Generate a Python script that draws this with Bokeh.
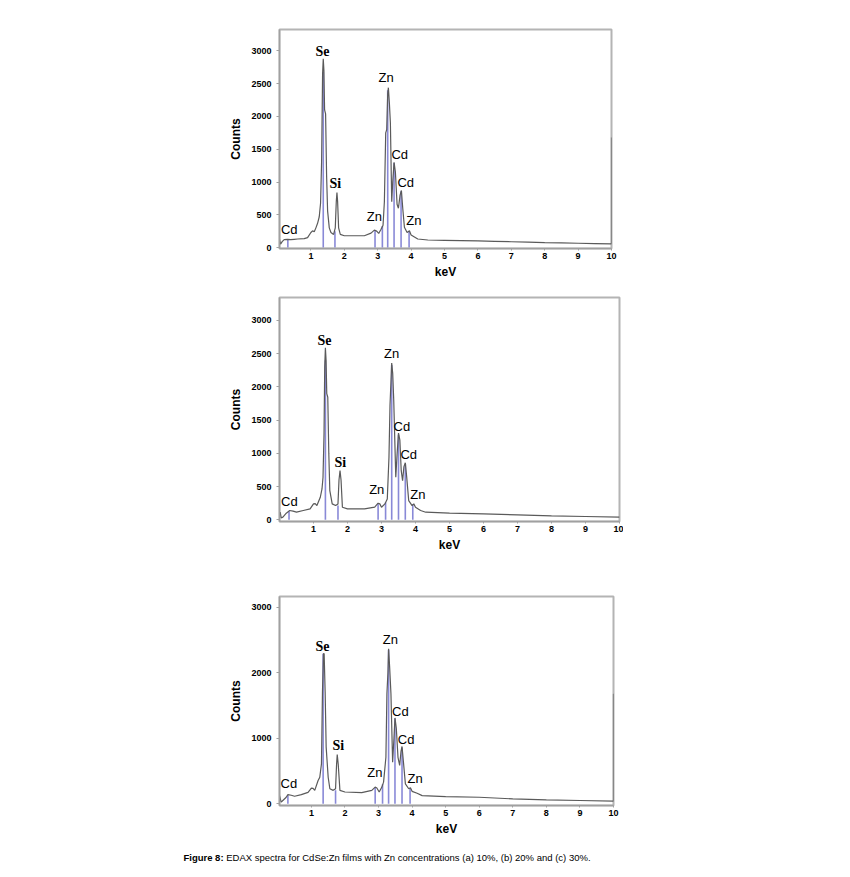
from bokeh.plotting import figure
from bokeh.layouts import column
from bokeh.models import Div, FixedTicker, Range1d, ColumnDataSource
from bokeh.core.properties import value
from bokeh.embed import file_html
from bokeh.resources import INLINE

# ---------------- data ----------------
X_TICKS = [1, 2, 3, 4, 5, 6, 7, 8, 9, 10]
Y_TICKS_AB = [0, 500, 1000, 1500, 2000, 2500, 3000]
Y_TICKS_C = [0, 1000, 2000, 3000]

# (a) 10 % Zn
energy_a = [0.06, 0.09, 0.14, 0.2, 0.3, 0.4, 0.5, 0.6, 0.8, 0.9, 1.0, 1.05, 1.1, 1.15, 1.2, 1.25,
            1.29, 1.32, 1.35, 1.37, 1.39, 1.41, 1.44, 1.47, 1.5, 1.55, 1.6, 1.68, 1.73, 1.76, 1.78,
            1.8, 1.83, 1.88, 2.0, 2.3, 2.6, 2.8, 2.9, 2.97, 3.03, 3.1, 3.16, 3.2, 3.24, 3.27, 3.3,
            3.32, 3.35, 3.38, 3.42, 3.45, 3.49, 3.53, 3.58, 3.62, 3.67, 3.71, 3.75, 3.8, 3.88, 3.95,
            4.0, 4.1, 4.2, 4.5, 5.0, 5.5, 6.0, 6.5, 7.0, 7.5, 8.0, 8.5, 9.0, 9.5, 10.0, 10.0]
counts_a = [125, 50, 90, 120, 125, 120, 125, 130, 135, 150, 230, 255, 240, 300, 370, 470,
            680, 1300, 2650, 2880, 2700, 2100, 2040, 1100, 560, 300, 230, 200, 300, 700, 840,
            700, 300, 200, 180, 180, 180, 220, 265, 250, 215, 280, 340, 700, 1750, 1800, 2350,
            2440, 2200, 1900, 700, 1000, 1300, 1150, 660, 600, 800, 870, 600, 310, 230, 255,
            190, 160, 130, 115, 110, 105, 100, 95, 88, 82, 75, 70, 65, 60, 55, 1680]
marker_e_a = [0.31, 1.37, 1.72, 2.92, 3.14, 3.30, 3.49, 3.70, 3.94]
marker_c_a = [125, 2680, 250, 255, 330, 2400, 1290, 860, 250]
label_x_a = [0.35, 1.35, 1.73, 2.90, 3.25, 3.66, 3.84, 4.08]
label_y_a = [280, 2985, 970, 475, 2600, 1420, 985, 408]
label_t_a = ["Cd", "Se", "Si", "Zn", "Zn", "Cd", "Cd", "Zn"]

# (b) 20 % Zn
energy_b = [0.02, 0.05, 0.1, 0.2, 0.3, 0.4, 0.5, 0.7, 0.9, 1.0, 1.05, 1.1, 1.2, 1.25, 1.28, 1.31,
            1.33, 1.35, 1.37, 1.39, 1.42, 1.45, 1.48, 1.55, 1.65, 1.72, 1.75, 1.78, 1.81, 1.85,
            2.0, 2.5, 2.8, 2.9, 2.95, 3.0, 3.1, 3.17, 3.22, 3.25, 3.28, 3.3, 3.33, 3.36, 3.42,
            3.46, 3.5, 3.54, 3.58, 3.62, 3.66, 3.7, 3.74, 3.8, 3.9, 3.95, 4.0, 4.15, 4.3, 5.0,
            6.0, 7.0, 8.0, 9.0, 10.0]
counts_b = [115, 30, 40, 100, 140, 130, 115, 140, 165, 240, 245, 215, 340, 465, 640, 1300,
            2300, 2590, 2400, 1900, 1845, 1000, 440, 240, 215, 240, 600, 740, 600, 190,
            165, 165, 190, 250, 240, 190, 240, 315, 945, 1720, 2100, 2360, 2200, 1800, 640,
            1000, 1305, 1200, 740, 590, 800, 860, 650, 290, 215, 240, 190, 140, 115, 100,
            90, 75, 60, 50, 40]
marker_e_b = [0.28, 1.35, 1.72, 2.90, 3.12, 3.30, 3.50, 3.70, 3.92]
marker_c_b = [130, 2400, 215, 250, 260, 2330, 1280, 840, 235]
label_x_b = [0.29, 1.32, 1.79, 2.86, 3.30, 3.60, 3.80, 4.07]
label_y_b = [280, 2700, 870, 450, 2510, 1405, 980, 380]
label_t_b = ["Cd", "Se", "Si", "Zn", "Zn", "Cd", "Cd", "Zn"]

# (c) 30 % Zn
energy_c = [0.05, 0.1, 0.15, 0.25, 0.3, 0.4, 0.5, 0.7, 0.9, 1.0, 1.05, 1.1, 1.2, 1.25, 1.3,
            1.33, 1.36, 1.38, 1.41, 1.44, 1.5, 1.55, 1.65, 1.72, 1.75, 1.77, 1.8, 1.85, 2.0,
            2.5, 2.8, 2.9, 2.95, 3.02, 3.1, 3.15, 3.22, 3.25, 3.28, 3.3, 3.33, 3.37, 3.42, 3.46,
            3.49, 3.53, 3.58, 3.63, 3.67, 3.7, 3.74, 3.8, 3.9, 3.95, 4.0, 4.15, 4.3, 5.0, 6.0,
            7.0, 8.0, 9.0, 10.0, 10.0]
counts_c = [125, 25, 50, 100, 140, 130, 115, 140, 175, 240, 235, 205, 355, 405, 610,
            1700, 2290, 2290, 1700, 865, 405, 230, 205, 230, 600, 750, 600, 205, 180,
            170, 205, 255, 240, 180, 255, 330, 710, 1680, 2000, 2365, 2100, 1680, 635, 1000,
            1310, 1150, 710, 585, 800, 875, 650, 305, 230, 245, 190, 160, 125, 110, 100,
            75, 60, 50, 40, 1680]
marker_e_c = [0.30, 1.35, 1.72, 2.90, 3.12, 3.30, 3.49, 3.70, 3.94]
marker_c_c = [130, 2290, 205, 250, 300, 2350, 1300, 860, 240]
label_x_c = [0.33, 1.33, 1.80, 2.89, 3.35, 3.65, 3.82, 4.09]
label_y_c = [305, 2400, 890, 470, 2500, 1415, 975, 390]
label_t_c = ["Cd", "Se", "Si", "Zn", "Zn", "Cd", "Cd", "Zn"]

BOLD_ELEMENTS = ["Se", "Si"]

SANS = "Liberation Sans"
SERIF = "Liberation Serif"


def make_fig(energy, counts, mk_e, mk_c, lx, ly, lt, x0, ymin, ymax, yticks,
             fw, fh, bl, bt, bb):
    p = figure(frame_width=fw, frame_height=fh, min_border_left=bl, min_border_right=10,
               min_border_top=bt, min_border_bottom=bb,
               x_range=Range1d(x0, 10), y_range=Range1d(ymin, ymax),
               output_backend="svg", toolbar_location=None,
               background_fill_color="white", border_fill_color="white")
    p.xgrid.grid_line_color = None
    p.ygrid.grid_line_color = None
    p.outline_line_color = "#b4b4b4"
    p.outline_line_width = 2

    p.segment(x0=mk_e, y0=[0] * len(mk_e), x1=mk_e, y1=mk_c,
              line_color="#7474d0", line_width=1.6, line_alpha=0.85)
    p.line(energy, counts, line_color="#5a5a5a", line_width=1.2)

    bold_idx = [i for i, t in enumerate(lt) if t in BOLD_ELEMENTS]
    norm_idx = [i for i, t in enumerate(lt) if t not in BOLD_ELEMENTS]
    src_b = ColumnDataSource(dict(x=[lx[i] for i in bold_idx], y=[ly[i] for i in bold_idx],
                                  t=[lt[i] for i in bold_idx]))
    src_n = ColumnDataSource(dict(x=[lx[i] for i in norm_idx], y=[ly[i] for i in norm_idx],
                                  t=[lt[i] for i in norm_idx]))
    p.text(x="x", y="y", text="t", source=src_b, text_font=value(SERIF),
           text_font_style="bold", text_font_size="14px", text_align="center",
           text_baseline="middle", text_color="black")
    p.text(x="x", y="y", text="t", source=src_n, text_font=value(SANS),
           text_font_size="13px", text_align="center",
           text_baseline="middle", text_color="black")

    p.xaxis.ticker = FixedTicker(ticks=X_TICKS)
    p.yaxis.ticker = FixedTicker(ticks=yticks)
    p.xaxis.axis_label = "keV"
    p.yaxis.axis_label = "Counts"
    for ax in (p.xaxis, p.yaxis):
        ax.axis_line_color = "#a0a0a0"
        ax.axis_line_width = 1.5
        ax.major_tick_line_color = "#a0a0a0"
        ax.major_tick_in = 0
        ax.minor_tick_line_color = None
        ax.major_label_text_font = SANS
        ax.major_label_text_font_style = "bold"
        ax.major_label_text_font_size = "9px"
        ax.major_label_text_color = "black"
        ax.axis_label_text_font = SANS
        ax.axis_label_text_font_style = "bold"
        ax.axis_label_text_font_size = "12px"
        ax.axis_label_text_color = "black"
    p.xaxis.major_tick_out = 2
    p.xaxis.major_label_standoff = 2
    p.xaxis.axis_label_standoff = 3
    p.yaxis.major_tick_out = 3
    p.yaxis.major_label_standoff = 5
    p.yaxis.axis_label_standoff = 5
    return p


p1 = make_fig(energy_a, counts_a, marker_e_a, marker_c_a, label_x_a, label_y_a, label_t_a,
              0.06, -15, 3328, Y_TICKS_AB, 332, 219, 279, 29, 45)
p2 = make_fig(energy_b, counts_b, marker_e_b, marker_c_b, label_x_b, label_y_b, label_t_b,
              0.0, -25, 3346, Y_TICKS_AB, 340, 224, 273, 4, 45)
p3 = make_fig(energy_c, counts_c, marker_e_c, marker_c_c, label_x_c, label_y_c, label_t_c,
              0.05, -26, 3163, Y_TICKS_C, 334, 209, 278, 30, 40)

caption = Div(text="<b>Figure 8:</b> EDAX spectra for CdSe:Zn films with Zn concentrations "
                   "(a) 10%, (b) 20% and (c) 30%.",
              width=764, height=24,
              styles={"font-family": "'Liberation Sans', Arial, sans-serif",
                      "font-size": "9.5px", "color": "black", "text-align": "center",
                      "padding-top": "2px", "line-height": "12px"})

layout = column(p1, p2, p3, caption)
open("out.html", "w").write(file_html(layout, INLINE))
